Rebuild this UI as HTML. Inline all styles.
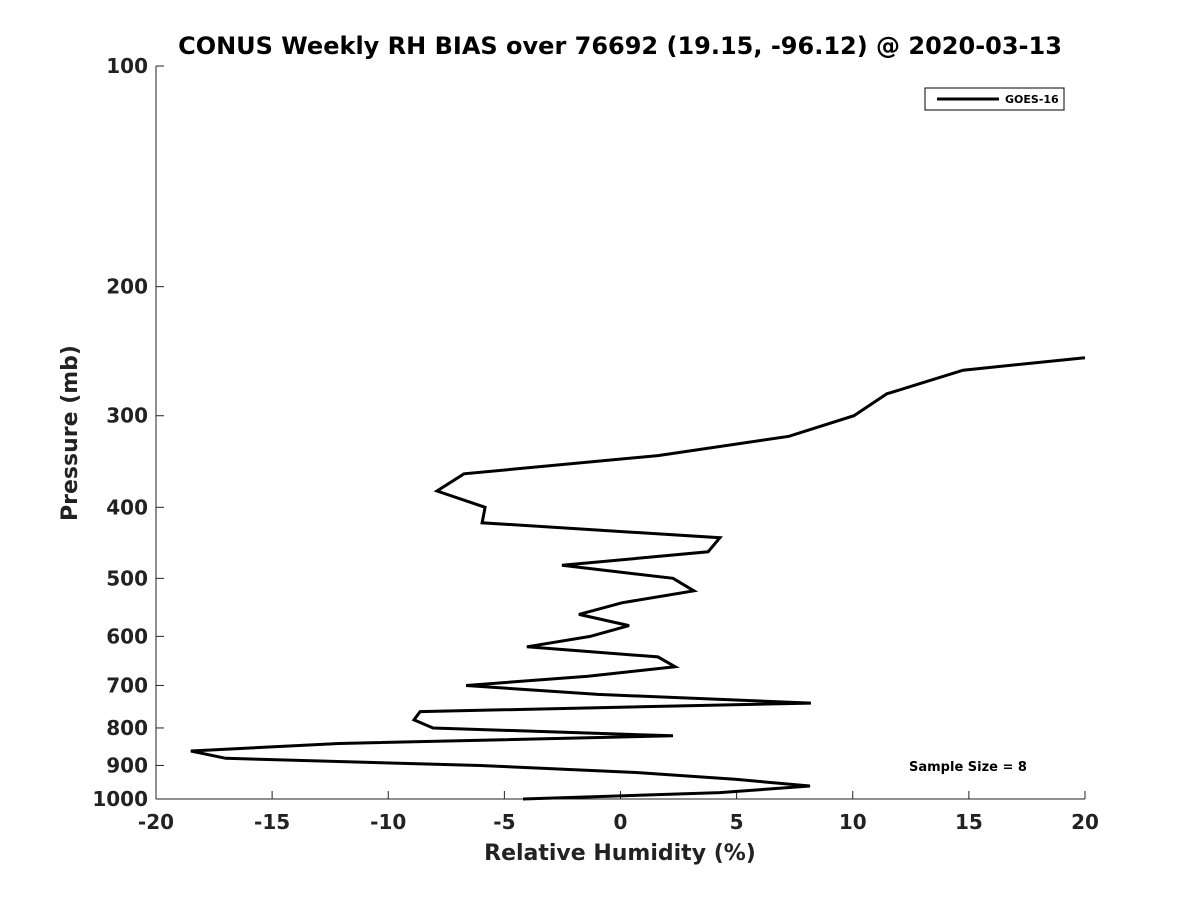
<!DOCTYPE html>
<html><head><meta charset="utf-8"><style>body{margin:0;background:#fff}svg text{font-family:"DejaVu Sans","Liberation Sans",sans-serif;font-weight:bold;fill:#222}</style></head>
<body>
<svg id="chart" width="1200" height="900" xmlns="http://www.w3.org/2000/svg">
<rect width="1200" height="900" fill="#fff"/>
<text x="620" y="54" text-anchor="middle" font-size="24" style="fill:#000">CONUS Weekly RH BIAS over 76692 (19.15, -96.12) @ 2020-03-13</text>
<g id="axes"></g>
<path id="line" fill="none" stroke="#000" stroke-width="3"/>
<g>
<rect x="925" y="88" width="139" height="22" fill="#fff" stroke="#000" stroke-width="1"/>
<line x1="937" y1="99" x2="999" y2="99" stroke="#000" stroke-width="3"/>
<text x="1005" y="103" font-size="11" style="fill:#000">GOES-16</text>
</g>
<text x="968" y="771" text-anchor="middle" font-size="13" style="fill:#000">Sample Size = 8</text>
<text x="620" y="860" text-anchor="middle" font-size="22">Relative Humidity (%)</text>
<text transform="translate(77,433) rotate(-90)" text-anchor="middle" font-size="22">Pressure (mb)</text>
</svg>
<script>
const pressures=[250,260,280,300,320,340,360,380,400,420,440,460,480,500,520,540,560,580,600,620,640,660,680,700,720,740,760,780,800,820,840,860,880,900,920,940,960,980,1000];
const rhBias=[20,14.75,11.47,10.05,7.25,1.61,-6.74,-7.9,-5.83,-5.96,4.28,3.77,-2.52,2.26,3.16,0.06,-1.79,0.37,-1.31,-4.03,1.61,2.35,-1.4,-6.65,-0.97,8.2,-8.63,-8.89,-8.07,2.26,-12.12,-18.5,-17.0,-6.05,0.67,4.93,8.16,4.28,-4.2];
const xTicks=[-20,-15,-10,-5,0,5,10,15,20];
const yTicks=[100,200,300,400,500,600,700,800,900,1000];
const X0=156,X1=1085,Y0=66,Y1=799;
const xs=v=>X0+(v+20)/40*(X1-X0);
const ys=p=>Y0+(Math.log10(p)-2)*(Y1-Y0);
const ns="http://www.w3.org/2000/svg";
const ax=document.getElementById('axes');
function mk(t,a){const e=document.createElementNS(ns,t);for(const k in a)e.setAttribute(k,a[k]);ax.appendChild(e);return e;}
const l1=mk('line',{x1:X0,y1:Y0,x2:X0,y2:Y1,stroke:'#222','stroke-width':1});


const l2=mk('line',{x1:X0,y1:Y1,x2:X1,y2:Y1,stroke:'#222','stroke-width':1});


xTicks.forEach(v=>{const x=xs(v);mk('line',{x1:x,y1:Y1,x2:x,y2:Y1-8,stroke:'#222'});
const t=mk('text',{x:x,y:Y1+30,'text-anchor':'middle','font-size':20});t.textContent=v;

});
yTicks.forEach(p=>{const y=ys(p);mk('line',{x1:X0,y1:y,x2:X0+8,y2:y,stroke:'#222'});
const t=mk('text',{x:X0-8,y:y+7,'text-anchor':'end','font-size':20});t.textContent=p;

});
document.getElementById('line').setAttribute('d',pressures.map((p,i)=>(i?'L':'M')+xs(rhBias[i]).toFixed(1)+','+ys(p).toFixed(1)).join(''));
</script>
</body></html>
